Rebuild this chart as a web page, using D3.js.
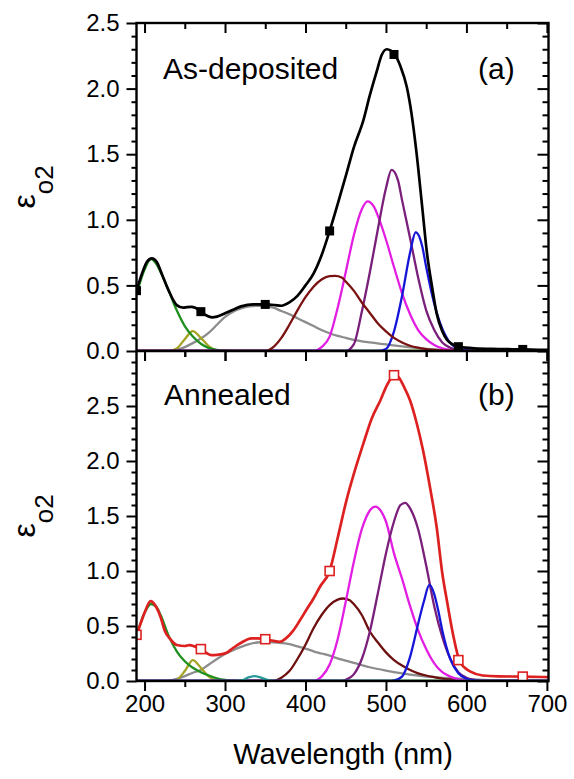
<!DOCTYPE html>
<html>
<head>
<meta charset="utf-8">
<script src="https://cdnjs.cloudflare.com/ajax/libs/d3/7.8.5/d3.min.js"></script>
<style>
  html, body { margin: 0; padding: 0; background: #fff; }
  svg text { font-family: "Liberation Sans", Arial, sans-serif; fill: #000; }
</style>
</head>
<body>
<svg id="chart" width="574" height="779"></svg>
<script>
// ---- data (wavelength nm, eps_o2) ----
const xTicks = [200, 300, 400, 500, 600, 700];
const yTicksA = [0, 0.5, 1.0, 1.5, 2.0, 2.5];
const yTicksB = [0, 0.5, 1.0, 1.5, 2.0, 2.5];
const markerWl = [190, 270, 350, 430, 510, 590, 670];
const markerA = [0.46, 0.30, 0.355, 0.915, 2.26, 0.033, 0.012];
const markerB = [0.42, 0.29, 0.38, 1.0, 2.78, 0.19, 0.04];

// (a) as-deposited
const totalA = [[190,0.46],[198,0.61],[203,0.68],[209,0.706],[215,0.68],[222,0.58],[230,0.46],[240,0.35],[248,0.33],[253,0.335],[258,0.337],[263,0.33],[270,0.30],[277,0.27],[284,0.256],[290,0.262],[300,0.287],[310,0.315],[320,0.34],[335,0.356],[350,0.355],[362,0.35],[370,0.345],[380,0.37],[390,0.42],[400,0.5],[410,0.59],[420,0.73],[430,0.915],[440,1.12],[451,1.354],[460,1.55],[472,1.76],[480,1.95],[488,2.12],[495,2.26],[501,2.30],[506,2.29],[511,2.26],[518,2.17],[526,2.01],[532,1.8],[538,1.51],[545,1.1],[551,0.745],[557,0.5],[563,0.287],[570,0.15],[576,0.084],[583,0.05],[590,0.033],[610,0.02],[640,0.015],[670,0.012],[702,0.008]];
const grayA = [[190,0],[230,0],[240,0.01],[250,0.03],[260,0.06],[270,0.095],[280,0.14],[290,0.2],[300,0.26],[310,0.3],[320,0.325],[330,0.34],[340,0.345],[350,0.343],[360,0.33],[370,0.305],[380,0.28],[390,0.25],[400,0.22],[410,0.19],[420,0.16],[430,0.135],[440,0.115],[450,0.1],[460,0.085],[480,0.065],[500,0.05],[520,0.035],[540,0.022],[560,0.012],[580,0.006],[600,0.003],[620,0],[702,0]];
const greenA = [[190,0.43],[200,0.62],[208,0.70],[215,0.66],[220,0.6],[230,0.46],[240,0.31],[250,0.19],[260,0.11],[270,0.055],[280,0.022],[290,0.008],[300,0.002],[310,0],[702,0]];
const oliveA = [[190,0],[230,0],[240,0.02],[250,0.09],[260,0.152],[270,0.10],[280,0.035],[290,0.005],[300,0],[702,0]];
const darkredA = [[190,0],[350,0],[360,0.03],[370,0.1],[380,0.2],[390,0.31],[400,0.41],[410,0.49],[420,0.545],[430,0.57],[437,0.572],[445,0.56],[450,0.53],[460,0.46],[470,0.37],[480,0.29],[490,0.21],[500,0.15],[510,0.1],[520,0.065],[530,0.04],[540,0.025],[550,0.015],[560,0.008],[580,0.002],[600,0],[702,0]];
const magentaA = [[190,0],[410,0],[420,0.03],[430,0.11],[440,0.33],[450,0.6],[460,0.88],[470,1.08],[477,1.14],[485,1.1],[490,1.03],[500,0.85],[510,0.64],[520,0.44],[530,0.28],[540,0.16],[550,0.09],[560,0.045],[570,0.02],[580,0.008],[590,0.002],[600,0],[702,0]];
const purpleA = [[190,0],[450,0],[460,0.05],[470,0.3],[480,0.6],[490,0.93],[500,1.24],[507,1.38],[515,1.3],[520,1.15],[530,0.86],[540,0.56],[550,0.31],[560,0.16],[570,0.065],[580,0.025],[590,0.008],[600,0],[702,0]];
const blueA = [[190,0],[490,0],[500,0.015],[510,0.15],[520,0.42],[530,0.75],[537,0.905],[545,0.8],[550,0.64],[560,0.36],[570,0.17],[580,0.06],[590,0.017],[600,0.004],[610,0],[702,0]];

// (b) annealed
const totalB = [[190,0.42],[195,0.52],[200,0.62],[207.6,0.727],[214,0.68],[220,0.58],[225,0.46],[232,0.38],[240,0.327],[250,0.318],[256,0.327],[262,0.315],[270,0.29],[277,0.255],[283,0.236],[290,0.238],[302,0.257],[310,0.3],[319,0.343],[333,0.388],[341,0.388],[350,0.38],[360,0.365],[368,0.357],[376,0.39],[385,0.46],[393,0.55],[401,0.645],[410,0.75],[418,0.857],[430,1.0],[440,1.3],[451,1.645],[460,1.88],[472,2.16],[482,2.38],[493,2.55],[502,2.7],[511,2.78],[516,2.76],[522,2.68],[530,2.55],[538,2.35],[546,2.1],[555,1.75],[563,1.4],[570,0.98],[576,0.72],[584,0.4],[591,0.19],[598,0.12],[605,0.085],[620,0.05],[640,0.042],[670,0.04],[702,0.035]];
const grayB = [[190,0],[225,0],[240,0.02],[250,0.045],[260,0.075],[270,0.1],[280,0.15],[290,0.2],[300,0.245],[310,0.28],[320,0.31],[330,0.335],[340,0.35],[350,0.355],[360,0.352],[370,0.345],[380,0.335],[390,0.315],[400,0.295],[410,0.27],[420,0.25],[430,0.23],[440,0.205],[450,0.185],[460,0.165],[480,0.125],[500,0.095],[520,0.07],[540,0.05],[560,0.035],[580,0.025],[600,0.017],[620,0.01],[650,0.005],[702,0.001]];
const greenB = [[190,0.41],[200,0.62],[208,0.70],[215,0.67],[220,0.6],[230,0.41],[240,0.27],[250,0.18],[260,0.12],[270,0.08],[280,0.05],[290,0.025],[300,0.01],[310,0.003],[320,0],[702,0]];
const oliveB = [[190,0],[235,0],[240,0.01],[250,0.09],[260,0.19],[270,0.12],[280,0.04],[290,0.005],[300,0],[702,0]];
const darkredB = [[190,0],[360,0],[370,0.03],[380,0.09],[390,0.2],[400,0.33],[410,0.48],[420,0.6],[430,0.69],[440,0.74],[447,0.75],[455,0.735],[460,0.7],[470,0.6],[480,0.45],[490,0.35],[500,0.26],[510,0.19],[520,0.14],[530,0.1],[540,0.07],[550,0.05],[560,0.035],[570,0.022],[580,0.014],[600,0.005],[620,0],[702,0]];
const magentaB = [[190,0],[410,0],[420,0.04],[430,0.15],[440,0.38],[450,0.72],[460,1.08],[470,1.38],[480,1.55],[487,1.585],[495,1.53],[500,1.45],[510,1.16],[520,0.93],[530,0.68],[540,0.46],[550,0.29],[560,0.16],[570,0.08],[580,0.04],[590,0.015],[600,0.005],[610,0],[702,0]];
const purpleB = [[190,0],[445,0],[450,0.01],[460,0.06],[470,0.2],[480,0.45],[490,0.8],[500,1.16],[510,1.45],[518,1.6],[524,1.62],[530,1.57],[540,1.38],[550,1.05],[560,0.68],[570,0.4],[580,0.2],[590,0.08],[600,0.03],[610,0.01],[620,0],[702,0]];
const blueB = [[190,0],[505,0],[510,0.005],[520,0.04],[530,0.22],[540,0.52],[547,0.72],[554,0.873],[560,0.79],[565,0.64],[570,0.46],[580,0.2],[590,0.07],[600,0.02],[610,0.005],[620,0],[702,0]];
const tealB = [[190,0],[310,0],[320,0.005],[330,0.035],[337,0.045],[345,0.03],[355,0.005],[365,0],[702,0]];

// ---- layout ----
const left = 136.5, right = 548.5;
const topA = 23, mid = 351, botB = 681;
const FS_TICK = 24;
const W_COMP = 2.3, W_TOTAL = 2.7;

const svg = d3.select("#chart");

const x = d3.scaleLinear().domain([190, 702]).range([left, right]);
const yA = d3.scaleLinear().domain([0, 2.5]).range([mid, topA]);
const yB = d3.scaleLinear().domain([0, 3.0]).range([botB, mid]);

function styleAxis(g, width) {
    g.select(".domain").remove();
    g.selectAll("line").attr("stroke", "#000").attr("stroke-width", width);
    g.selectAll("text").style("font-size", FS_TICK + "px").attr("fill", "#000");
}

function drawPanel(y, yTicks, top, bottom, showX) {
    const minor = d3.range(0, y.domain()[1] + 0.001, 0.1).filter(v => Math.abs(v * 2 - Math.round(v * 2)) > 0.01);
    const xMinor = d3.range(250, 701, 100);

    // left: outward ticks
    svg.append("g").attr("transform", `translate(${left},0)`)
        .call(d3.axisLeft(y).tickValues(minor).tickSize(5).tickFormat(""))
        .call(g => styleAxis(g, 2));
    svg.append("g").attr("transform", `translate(${left},0)`)
        .call(d3.axisLeft(y).tickValues(yTicks).tickSize(10).tickPadding(7).tickFormat(d3.format(".1f")))
        .call(g => styleAxis(g, 2));

    // right: inward ticks
    svg.append("g").attr("transform", `translate(${right},0)`)
        .call(d3.axisLeft(y).tickValues(minor).tickSize(6).tickFormat(""))
        .call(g => styleAxis(g, 2));
    svg.append("g").attr("transform", `translate(${right},0)`)
        .call(d3.axisLeft(y).tickValues(yTicks).tickSize(11).tickFormat(""))
        .call(g => styleAxis(g, 2));

    // top: inward ticks
    svg.append("g").attr("transform", `translate(0,${top})`)
        .call(d3.axisBottom(x).tickValues(xMinor).tickSize(6).tickFormat(""))
        .call(g => styleAxis(g, 2));
    svg.append("g").attr("transform", `translate(0,${top})`)
        .call(d3.axisBottom(x).tickValues(xTicks).tickSize(10).tickFormat(""))
        .call(g => styleAxis(g, 2));

    // bottom: outward ticks
    svg.append("g").attr("transform", `translate(0,${bottom})`)
        .call(d3.axisBottom(x).tickValues(xMinor).tickSize(6).tickFormat(""))
        .call(g => styleAxis(g, 2));
    svg.append("g").attr("transform", `translate(0,${bottom})`)
        .call(d3.axisBottom(x).tickValues(xTicks).tickSize(10).tickPadding(4).tickFormat(showX ? d3.format("d") : ""))
        .call(g => styleAxis(g, 2));
}

// clip so curves stay in their panel
const defs = svg.append("defs");
defs.append("clipPath").attr("id", "clipA").append("rect")
    .attr("x", left).attr("y", topA).attr("width", right - left).attr("height", mid - topA);
defs.append("clipPath").attr("id", "clipB").append("rect")
    .attr("x", left).attr("y", mid).attr("width", right - left).attr("height", botB - mid);

// ---- panel (a) ----
const gA = svg.append("g").attr("clip-path", "url(#clipA)");
const drawA = (data, color, w) => {
    gA.append("path").datum(data)
        .attr("fill", "none").attr("stroke", color).attr("stroke-width", w)
        .attr("stroke-linejoin", "round")
        .attr("d", d3.line().x(d => x(d[0])).y(d => yA(d[1])).curve(d3.curveMonotoneX));
};
drawA(grayA, "#8c8c8c", W_COMP);
drawA(oliveA, "#a3a324", W_COMP);
drawA(greenA, "#1f8f1f", W_COMP);
drawA(magentaA, "#e31ee3", W_COMP);
drawA(purpleA, "#7a1f7a", W_COMP);
drawA(blueA, "#1616d8", W_COMP);
drawA(darkredA, "#7a1212", W_COMP);
drawA(totalA, "#000", W_TOTAL);

gA.selectAll(".mA")
    .data(markerWl.map((w, i) => [w, markerA[i]]))
    .enter().append("rect")
    .attr("x", d => x(d[0]) - 4.5)
    .attr("y", d => yA(d[1]) - 4.5)
    .attr("width", 9).attr("height", 9)
    .attr("fill", "#000");

// ---- panel (b) ----
const gB = svg.append("g").attr("clip-path", "url(#clipB)");
const drawB = (data, color, w) => {
    gB.append("path").datum(data)
        .attr("fill", "none").attr("stroke", color).attr("stroke-width", w)
        .attr("stroke-linejoin", "round")
        .attr("d", d3.line().x(d => x(d[0])).y(d => yB(d[1])).curve(d3.curveMonotoneX));
};
drawB(grayB, "#8c8c8c", W_COMP);
drawB(oliveB, "#a3a324", W_COMP);
drawB(greenB, "#1f8f1f", W_COMP);
drawB(darkredB, "#6e1010", W_COMP);
drawB(magentaB, "#e31ee3", W_COMP);
drawB(purpleB, "#7a1f7a", W_COMP);
drawB(blueB, "#1616d8", W_COMP);
drawB(tealB, "#2a9a9a", W_COMP);
drawB(totalB, "#dd2020", W_TOTAL);

gB.selectAll(".mB")
    .data(markerWl.map((w, i) => [w, markerB[i]]))
    .enter().append("rect")
    .attr("x", d => x(d[0]) - 4.5)
    .attr("y", d => yB(d[1]) - 4.5)
    .attr("width", 9).attr("height", 9)
    .attr("fill", "#fff")
    .attr("stroke", "#dd2020")
    .attr("stroke-width", 1.6);

// ---- axes and frames ----
drawPanel(yA, yTicksA, topA, mid, false);
drawPanel(yB, yTicksB, mid, botB, true);

svg.append("rect").attr("x", left).attr("y", topA)
    .attr("width", right - left).attr("height", botB - topA)
    .attr("fill", "none").attr("stroke", "#000").attr("stroke-width", 2.4);
svg.append("line").attr("x1", left).attr("x2", right).attr("y1", mid).attr("y2", mid)
    .attr("stroke", "#000").attr("stroke-width", 2.4);

// ---- texts ----
svg.append("text").attr("x", 163).attr("y", 79).style("font-size", "30px").text("As-deposited");
svg.append("text").attr("x", 478).attr("y", 79).style("font-size", "30px").text("(a)");
svg.append("text").attr("x", 164).attr("y", 405).style("font-size", "30px").text("Annealed");
svg.append("text").attr("x", 478).attr("y", 405).style("font-size", "30px").text("(b)");

svg.append("text")
    .attr("x", (left + right) / 2 + 0.5).attr("y", 764)
    .attr("text-anchor", "middle")
    .style("font-size", "29px")
    .text("Wavelength (nm)");

[(topA + mid) / 2, (mid + botB) / 2].forEach(cy => {
    const t = svg.append("text")
        .attr("transform", `translate(35,${cy}) rotate(-90)`)
        .attr("text-anchor", "middle");
    t.append("tspan").style("font-size", "32px").text("ε");
    t.append("tspan").style("font-size", "26px").attr("dy", 18).text("o2");
});
</script>
</body>
</html>
